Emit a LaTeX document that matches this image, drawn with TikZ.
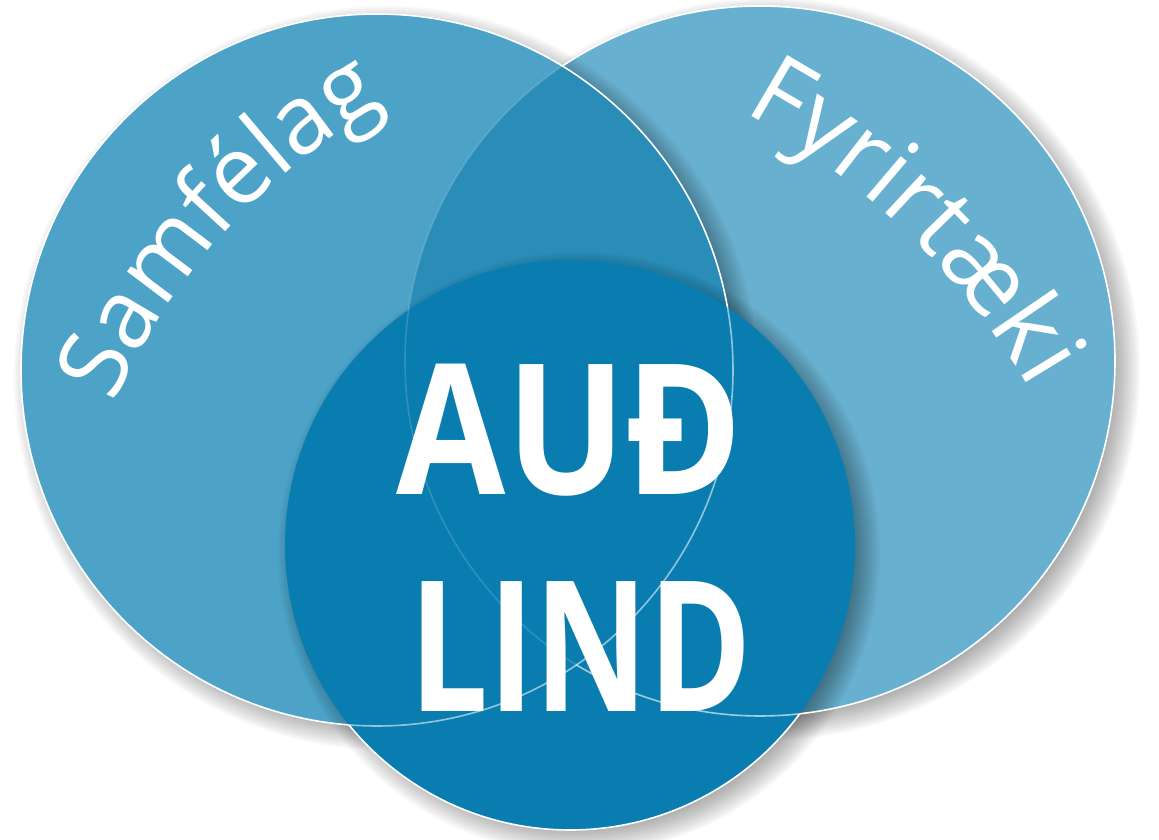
\documentclass[tikz,border=0pt]{standalone}
\usepackage{fontspec}
\usepackage{graphicx}
\newfontfamily\osans{Open Sans}
\usetikzlibrary{decorations.text,calc}
\definecolor{cleft}{HTML}{4CA3C7}
\definecolor{cright}{HTML}{68B0CF}
\definecolor{cover}{HTML}{2A8DB8}
\definecolor{cbot}{HTML}{0A7DB0}
\newcommand\circshadow[2]{%
  \foreach \k in {1,...,14} {%
    \fill[black,opacity=0.026] ($(#1)+(9,-8)$) circle[radius=#2+2*\k-12];%
  }%
}
\tikzset{
  outl/.style={white, line width=1.6pt},
  arctext/.style={decorate, decoration={text along path, text align=center, text color=white}},
  bigword/.style={anchor=base, inner sep=0pt, text=white, font=\osans\bfseries\fontsize{182}{182}\selectfont}
}
\begin{document}
\begin{tikzpicture}[x=1pt,y=1pt]
\useasboundingbox (0,0) rectangle (1159,840);
\coordinate (L) at (377,470);
\coordinate (R) at (760,479);
\coordinate (B) at (570,295);
\def\rL{356}\def\rR{355}\def\rB{285}
% right circle
\circshadow{R}{\rR}
\fill[cright] (R) circle[radius=\rR];
% left circle
\circshadow{L}{\rL}
\fill[cleft] (L) circle[radius=\rL];
\begin{scope}
  \clip (R) circle[radius=\rR];
  \fill[cover] (L) circle[radius=\rL];
\end{scope}
% bottom circle
\circshadow{B}{\rB}
\fill[cbot] (B) circle[radius=\rB];
% outlines: left
\begin{scope}[even odd rule]
  \clip (0,0) rectangle (1159,840) (B) circle[radius=\rB];
  \draw[outl] (L) circle[radius=\rL];
\end{scope}
\begin{scope}
  \clip (B) circle[radius=\rB];
  \draw[outl, opacity=0.55] (L) circle[radius=\rL];
\end{scope}
% outlines: right
\begin{scope}[even odd rule]
  \clip (0,0) rectangle (1159,840) (L) circle[radius=\rL];
  \begin{scope}[even odd rule]
    \clip (0,0) rectangle (1159,840) (B) circle[radius=\rB];
    \draw[outl] (R) circle[radius=\rR];
  \end{scope}
  \begin{scope}
    \clip (B) circle[radius=\rB];
    \draw[outl, opacity=0.6] (R) circle[radius=\rR];
  \end{scope}
\end{scope}
\begin{scope}
  \clip (L) circle[radius=\rL];
  \draw[outl, opacity=0.15] (R) circle[radius=\rR];
\end{scope}
% outlines: bottom
\begin{scope}[even odd rule]
  \clip (0,0) rectangle (1159,840) (L) circle[radius=\rL];
  \clip (0,0) rectangle (1159,840) (R) circle[radius=\rR];
  \draw[outl] (B) circle[radius=\rB];
\end{scope}
% arc labels
\path[arctext, decoration={text={|\osans\fontsize{96}{96}\selectfont|Samfélag}}]
  ($(701,180)+(168:640)$) arc[start angle=168, end angle=108, radius=640];
\path[arctext, decoration={text={|\osans\fontsize{99}{99}\selectfont|Fyrirtæki}}]
  ($(390,75)+(77:742)$) arc[start angle=77, end angle=15, radius=742];
% centre words
\node[bigword] (aud) at (570,345) {\scalebox{0.87}[1]{AUĐ}};
\node[bigword] (lind) at (581,128) {\scalebox{0.77}[1]{LIND}};
\end{tikzpicture}
\end{document}
